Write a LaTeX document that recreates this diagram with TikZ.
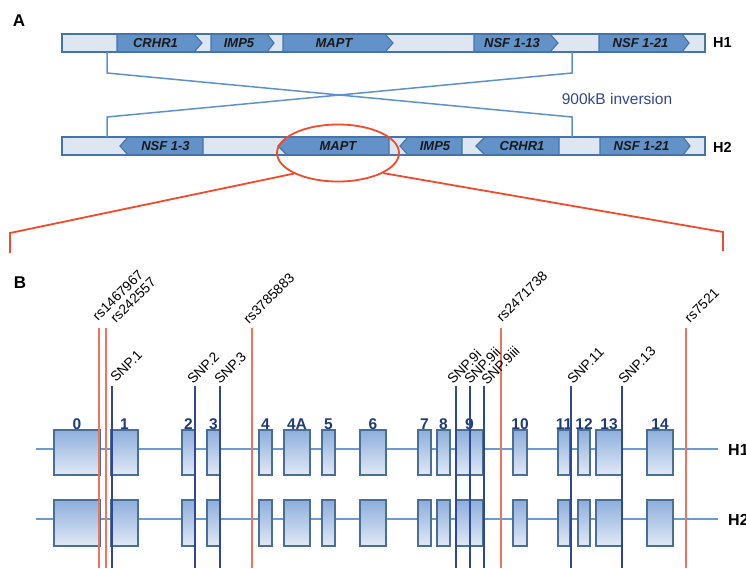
\documentclass[tikz,border=0pt]{standalone}
\usepackage{fontspec}
\setmainfont{Liberation Sans}
\usetikzlibrary{shapes.geometric}
\definecolor{barlight}{HTML}{DDE6F1}
\definecolor{genedark}{HTML}{6392C8}
\definecolor{barborder}{HTML}{4574AA}
\definecolor{crossc}{HTML}{5E90CE}
\definecolor{invtext}{HTML}{34468C}
\definecolor{zoomred}{HTML}{EF4B2C}
\definecolor{rsred}{HTML}{F0735E}
\definecolor{snpblue}{HTML}{2F4794}
\definecolor{exborder}{HTML}{4A6F95}
\definecolor{extop}{HTML}{8DAEDC}
\definecolor{exbot}{HTML}{E1E9F5}
\definecolor{exlab}{HTML}{1F3A78}
\definecolor{backc}{HTML}{6A9AD0}
\newcommand\geneR[7]{%
  \draw[genebox] (#2,#5) -- (#3,#5) -- (#4,{(#5+#6)/2}) -- (#3,#6) -- (#2,#6) -- cycle;
  \node[genetext] (#1) at ({(#2+#3)/2},{(#5+#6)/2}) {#7};}
\newcommand\geneL[7]{%
  \draw[genebox] (#3,#5) -- (#2,#5) -- (#4,{(#5+#6)/2}) -- (#2,#6) -- (#3,#6) -- cycle;
  \node[genetext] (#1) at ({(#2+#3)/2},{(#5+#6)/2}) {#7};}
\begin{document}
\begin{tikzpicture}[x=1pt,y=-1pt,
  barbox/.style={draw=barborder, line width=1.4pt, fill=barlight},
  genebox/.style={draw=barborder, line width=1.1pt, fill=genedark, line join=miter},
  genetext/.style={font=\fontsize{13}{15}\selectfont\bfseries\itshape, text=black!90, inner sep=0pt},
  crossline/.style={draw=crossc, line width=1.5pt},
  zoomline/.style={draw=zoomred, line width=1.8pt},
  hlab/.style={font=\fontsize{14.5}{16}\selectfont\bfseries, anchor=west, inner sep=0pt},
  hlabB/.style={font=\fontsize{16}{18}\selectfont\bfseries, anchor=west, inner sep=0pt},
  panel/.style={font=\fontsize{17}{19}\selectfont\bfseries, inner sep=0pt},
  exon/.style={draw=exborder, line width=2.2pt, top color=extop, bottom color=exbot},
  exlabel/.style={font=\fontsize{15.5}{17}\selectfont\bfseries, text=exlab, anchor=base, inner sep=0pt},
  backbone/.style={draw=backc, line width=1.3pt},
  rsline/.style={draw=rsred, line width=1.2pt},
  snpline/.style={draw=snpblue, line width=1.2pt},
  rotlab/.style={font=\fontsize{13.8}{15}\selectfont, rotate=45, anchor=base west, inner sep=0pt}
]
\useasboundingbox (0,0) rectangle (746,568);
\clip (0,0) rectangle (746,568);

% ---------- Panel A ----------
\node[panel] (pA) at (19,21) {A};

% H1 bar
\draw[barbox] (62,34) rectangle (705,52);
\geneR{h1crhr}{117}{194}{202}{34}{52}{CRHR1}
\geneR{h1imp}{211}{267}{274}{34}{52}{IMP5}
\geneR{h1mapt}{283}{385}{393}{34}{52}{MAPT}
\geneR{h1nsfa}{474}{550}{558}{34}{52}{NSF 1-13}
\geneR{h1nsfb}{599}{682}{689}{34}{52}{NSF 1-21}
\draw[barborder, line width=1.4pt] (62,34) rectangle (705,52);
\node[hlab] (H1a) at (713,43) {H1};

% H2 bar
\draw[barbox] (62,137) rectangle (705,155);
\geneL{h2nsf}{128}{203}{120}{137}{155}{NSF 1-3}
\geneL{h2mapt}{287}{389}{278}{137}{155}{MAPT}
\geneL{h2imp}{408}{462}{400}{137}{155}{IMP5}
\geneL{h2crhr}{485}{559}{476}{137}{155}{CRHR1}
\geneR{h2nsfb}{600}{683}{690}{137}{155}{NSF 1-21}
\draw[barborder, line width=1.4pt] (62,137) rectangle (705,155);
\node[hlab] (H2a) at (713,147) {H2};

% inversion lines
\coordinate (c1a) at (107,52);
\coordinate (c1b) at (107,73);
\coordinate (c1c) at (572,117);
\coordinate (c1d) at (572,137);
\coordinate (c2a) at (572,52);
\coordinate (c2b) at (572,73);
\coordinate (c2c) at (107,117);
\coordinate (c2d) at (107,137);
\draw[crossline] (c1a) -- (c1b) -- (c1c) -- (c1d);
\draw[crossline] (c2a) -- (c2b) -- (c2c) -- (c2d);
\node[font=\fontsize{15.5}{17}\selectfont, text=invtext, inner sep=0pt] (inv) at (617,99) {900kB inversion};

% zoom ellipse
\node[ellipse, draw=zoomred, line width=1.8pt, minimum width=122pt, minimum height=57pt, inner sep=0pt] (ell) at (338,153) {};
\coordinate (zl1) at (10,233);
\coordinate (zl2) at (10,253);
\coordinate (zr1) at (723,232);
\coordinate (zr2) at (723,251);
\draw[zoomline] (ell.205) -- (zl1) -- (zl2);
\draw[zoomline] (ell.336) -- (zr1) -- (zr2);

% ---------- Panel B ----------
\node[panel] (pB) at (20,283) {B};

\coordinate (b1s) at (36,449);
\coordinate (b1e) at (718,449);
\coordinate (b2s) at (36,519);
\coordinate (b2e) at (718,519);
\draw[backbone] (b1s) -- (b1e);
\draw[backbone] (b2s) -- (b2e);

\foreach \a/\b/\l/\n in {54/100/0/e0, 111/138/1/e1, 182/195/2/e2, 207/220/3/e3,
   259/272/4/e4, 284/310/4A/e4a, 322/335/5/e5, 360/386/6/e6, 418/431/7/e7,
   437/450/8/e8, 456/483/9/e9, 513/527/10/e10, 558/570/11/e11, 578/590/12/e12,
   596/622/13/e13, 647/673/14/e14} {
  \draw[exon] (\a,430) rectangle (\b,475);
  \draw[exon] (\a,500) rectangle (\b,546);
  \node[exlabel] (\n) at ({(\a+\b)/2},429) {\l};
}

% rs lines (red)
\foreach \x/\sx/\sy/\t/\n in {99/98/322/rs1467967/r1, 106/116/324/rs242557/r2,
   252/249/325/rs3785883/r3, 501/502/323/rs2471738/r4, 686/690/324/rs7521/r5} {
  \coordinate (\n t) at (\x,328);
  \coordinate (\n b) at (\x,568);
  \draw[rsline] (\n t) -- (\n b);
  \node[rotlab] (\n lab) at (\sx,\sy) {\t};
}

% SNP lines (blue)
\foreach \x/\sx/\sy/\t/\n in {112/116/383/SNP.1/s1, 195/193/385/SNP.2/s2,
   220/220/385/SNP.3/s3, 456/453/385/SNP.9i/s9a, 470/470/385/SNP.9ii/s9b,
   484/487/386/SNP.9iii/s9c, 571/573/385/SNP.11/s11, 622/624/385/SNP.13/s13} {
  \coordinate (\n t) at (\x,386);
  \coordinate (\n b) at (\x,568);
  \draw[snpline] (\n t) -- (\n b);
  \node[rotlab] (\n lab) at (\sx,\sy) {\t};
}

\node[hlabB] (H1b) at (728,450) {H1};
\node[hlabB] (H2b) at (728,520) {H2};
\end{tikzpicture}
\end{document}
